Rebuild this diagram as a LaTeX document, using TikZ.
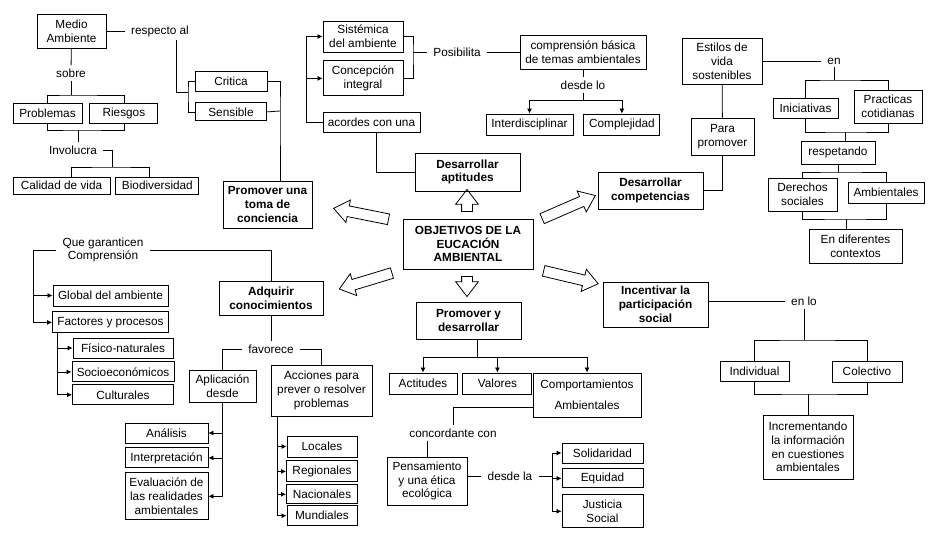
\documentclass[tikz,border=0pt]{standalone}
\usepackage{fontspec}
\setmainfont{Liberation Sans}
\usetikzlibrary{positioning, arrows.meta, shapes.arrows}
\newcommand\mapfont{\fontsize{11.8}{13.8}\selectfont}

\begin{document}
\begin{tikzpicture}[
    % one unit is one pixel of the sketch, y runs downwards
    x=1pt, y=-1pt,
    font=\mapfont,
    box/.style={
        draw=black,
        line width=0.9pt,
        align=center,
        inner sep=2pt
    },
    goal/.style={
        box,
        font=\mapfont\bfseries
    },
    word/.style={
        align=center,
        inner xsep=6pt,
        inner ysep=3pt
    },
    link/.style={
        line width=0.8pt
    },
    feed/.style={
        link,
        -{Latex[length=5pt, width=5pt]} % small filled head
    },
    push/.style={
        single arrow,
        draw=black,
        line width=0.8pt,
        inner sep=0pt,
        inner ysep=5pt,
        minimum height=#1,
        single arrow head extend=6pt,
        single arrow tip angle=75
    }
]

    \path[fill=white] (0,0) rectangle (937,535);

    % --- 1. Place Nodes ---
    \node[goal, minimum width=130, minimum height=50] (objetivos) at (468,244) {OBJETIVOS DE LA\\EUCACIÓN\\AMBIENTAL};

    % toma de conciencia
    \node[box, minimum width=69, minimum height=34] (medio) at (71.5,31) {Medio\\Ambiente};
    \node[word] (respecto) at (160,31) {respecto al};
    \node[word] (sobre) at (71,73) {sobre};
    \node[box, minimum width=69, minimum height=20] (problemas) at (47.5,113) {Problemas};
    \node[box, minimum width=68, minimum height=20] (riesgos) [right=7pt of problemas] {Riesgos};
    \node[word] (involucra) at (73,150) {Involucra};
    \node[box, minimum width=97, minimum height=17] (calidad) at (61.5,185.5) {Calidad de vida};
    \node[box, minimum width=83, minimum height=17] (biodiv) [right=5pt of calidad] {Biodiversidad};
    \node[box, minimum width=72, minimum height=20] (critica) at (231,81) {Critica};
    \node[box, minimum width=71, minimum height=18] (sensible) [below=11pt of critica] {Sensible};
    \node[goal, minimum width=89, minimum height=47] (toma) at (267.5,204.5) {Promover una\\toma de\\conciencia};

    % aptitudes
    \node[box, minimum width=80, minimum height=31] (sistemica) at (363,36.5) {Sistémica\\del ambiente};
    \node[box, minimum width=80, minimum height=35] (concepcion) [below=8pt of sistemica] {Concepción\\integral};
    \node[box, minimum width=97, minimum height=20] (acordes) at (371.5,122) {acordes con una};
    \node[goal, minimum width=105, minimum height=38] (aptitudes) at (467.5,172) {Desarrollar\\aptitudes};
    \node[word] (posibilita) at (457,52) {Posibilita};
    \node[box, minimum width=126, minimum height=34] (comprension) at (583,52) {comprensión básica\\de temas ambientales};
    \node[word] (desdelo) at (583,85) {desde lo};
    \node[box, minimum width=87, minimum height=21] (interdis) at (529.5,124.5) {Interdisciplinar};
    \node[box, minimum width=76, minimum height=21] (complejidad) [right=10pt of interdis] {Complejidad};

    % competencias
    \node[box, minimum width=80, minimum height=46] (estilos) at (722,61) {Estilos de\\vida\\sostenibles};
    \node[box, minimum width=63, minimum height=37] (para) at (722.5,136.5) {Para\\promover};
    \node[goal, minimum width=105, minimum height=37] (competencias) at (650.5,190.5) {Desarrollar\\competencias};
    \node[word] (en) at (834,61) {en};
    \node[box, minimum width=65, minimum height=20] (iniciativas) at (805.5,108) {Iniciativas};
    \node[box, minimum width=68, minimum height=33] (practicas) at (888,106.5) {Practicas\\cotidianas};
    \node[box, minimum width=74, minimum height=23] (respetando) at (838,152.5) {respetando};
    \node[box, minimum width=69, minimum height=33] (derechos) at (802.5,194.5) {Derechos\\sociales};
    \node[box, minimum width=76, minimum height=21] (ambientales) at (886,192.5) {Ambientales};
    \node[box, minimum width=93, minimum height=34] (contextos) at (855.5,246) {En diferentes\\contextos};

    % conocimientos
    \node[word] (quegar) at (103,250) {Que garanticen\\Comprensión};
    \node[box, minimum width=115, minimum height=21] (global) at (110.5,295.5) {Global del ambiente};
    \node[box, minimum width=116, minimum height=21] (factores) [below=5pt of global] {Factores y procesos};
    \node[box, minimum width=100, minimum height=20] (fisico) at (123,348) {Físico-naturales};
    \node[box, minimum width=102, minimum height=20] (socio) [below=3pt of fisico] {Socioeconómicos};
    \node[box, minimum width=101, minimum height=20] (culturales) [below=2pt of socio] {Culturales};
    \node[goal, minimum width=104, minimum height=34] (adquirir) at (271,298) {Adquirir\\conocimientos};
    \node[word] (favorece) at (271,349) {favorece};
    \node[box, minimum width=67, minimum height=32] (aplicacion) at (222.5,386) {Aplicación\\desde};
    \node[box, minimum width=101, minimum height=51] (acciones) at (321.5,390.5) {Acciones para\\prever o resolver\\problemas};
    \node[box, minimum width=83, minimum height=20] (analisis) at (166.5,433) {Análisis};
    \node[box, minimum width=83, minimum height=20] (interpretacion) [below=4pt of analisis] {Interpretación};
    \node[box, minimum width=83, minimum height=47] (evaluacion) [below=4pt of interpretacion] {Evaluación de\\las realidades\\ambientales};
    \node[box, minimum width=70, minimum height=21] (locales) at (322,446.5) {Locales};
    \node[box, minimum width=71, minimum height=21] (regionales) [below=3pt of locales] {Regionales};
    \node[box, minimum width=71, minimum height=19] (nacionales) [below=2pt of regionales] {Nacionales};
    \node[box, minimum width=70, minimum height=20] (mundiales) [below=1pt of nacionales] {Mundiales};

    % promover y desarrollar
    \node[goal, minimum width=105, minimum height=37] (promdes) at (468.5,320.5) {Promover y\\desarrollar};
    \node[box, minimum width=68, minimum height=21] (actitudes) at (423,383.5) {Actitudes};
    \node[box, minimum width=69, minimum height=21] (valores) [right=5pt of actitudes] {Valores};
    \node[box, minimum width=108, minimum height=44] (comportamientos) at (587,395) {Comportamientos\\[7pt]Ambientales};
    \node[word] (concordante) at (453,433) {concordante con};
    \node[box, minimum width=80, minimum height=48] (pensamiento) at (427,481) {Pensamiento\\y una ética\\ecológica};
    \node[word] (desdela) at (510,476) {desde la};
    \node[box, minimum width=81, minimum height=20] (solidaridad) at (602.5,453) {Solidaridad};
    \node[box, minimum width=81, minimum height=19] (equidad) [below=5pt of solidaridad] {Equidad};
    \node[box, minimum width=81, minimum height=33] (justicia) [below=6pt of equidad] {Justicia\\Social};

    % participacion
    \node[goal, minimum width=105, minimum height=45] (incentivar) at (655.5,304.5) {Incentivar la\\participación\\social};
    \node[word] (enlo) at (804,301) {en lo};
    \node[box, minimum width=69, minimum height=20] (individual) at (754.5,371) {Individual};
    \node[box, minimum width=70, minimum height=21] (colectivo) at (867,371.5) {Colectivo};
    \node[box, minimum width=90, minimum height=64] (incrementando) at (808,447) {Incrementando\\la información\\en cuestiones\\ambientales};

    % hollow arrows round the centre
    \node[push=22, rotate=90] (toaptitudes) at (467,204) {};
    \node[push=20, rotate=-90] (topromdes) at (467,283) {};
    \node[push=56, rotate=168.7] (totoma) at (364.5,214.5) {};
    \node[push=55, rotate=196.8] (toadquirir) at (369,280) {};
    \node[push=58, rotate=23.5] (tocompetencias) at (565.5,208.5) {};
    \node[push=56, rotate=-13.3] (toincentivar) at (567.5,276.5) {};

    % --- 2. Draw Connectors ---

    % Medio Ambiente -> sobre -> Problemas / Riesgos
    \draw[link] (medio) -- (sobre);
    \coordinate (sobrej) at (71,95);
    \draw[link] (sobre) -- (sobrej);
    \draw[link] (problemas.north) |- (sobrej) -| (riesgos.north);

    % Problemas / Riesgos -> Involucra -> Calidad / Biodiversidad
    \coordinate (invj) at (78,130);
    \draw[link] (problemas.south) |- (invj) -| (riesgos.south);
    \draw[link] (invj) -- (invj |- involucra.north);
    \coordinate (invj2) at (112,167);
    \draw[link] (involucra.east) -| (invj2);
    \draw[link] ([xshift=9.5pt]calidad.north) |- (invj2) -| ([xshift=-8.5pt]biodiv.north);

    % Medio Ambiente -> respecto al -> Critica / Sensible -> toma
    \draw[link] (medio) -- (respecto);
    \coordinate (respj) at (188,92);
    \draw[link] ([xshift=16pt]respecto.south) |- (respj);
    \draw[link] (critica.west) -| (respj) |- (sensible.west);
    \coordinate (tomaj) at (280,111);
    \draw[link] (critica.east) -| (tomaj) -- (tomaj |- toma.north);
    \draw[link] (sensible.east) -- (tomaj);

    % acordes con una -> Sistemica / Concepcion, and -> aptitudes
    \coordinate (acj) at (306,122);
    \draw[link] (acordes) -- (acj);
    \draw[feed] (acj) |- (sistemica.west);
    \draw[feed] (acj |- concepcion.west) -- (concepcion.west);
    \draw[link] ([xshift=4.5pt]acordes.south) |- (aptitudes.west);

    % Posibilita -> comprension -> desde lo
    \coordinate (posj) at (413,52);
    \draw[link] (sistemica.east) -| (posj) |- (concepcion.east);
    \draw[link] (posj) -- (posibilita);
    \draw[link] (posibilita) -- (comprension);
    \draw[link] (comprension) -- (desdelo);
    \coordinate (desdej) at (583,100);
    \draw[link] (desdelo) -- (desdej);
    \draw[feed] (desdej) -| (interdis.north);
    \draw[feed] (desdej) -| (complejidad.north);

    % Estilos de vida -> en -> ... -> contextos
    \draw[link] (estilos) -- (en);
    \coordinate (enj) at (834,80);
    \draw[link] (en) -- (enj);
    \draw[link] (iniciativas.north) |- (enj) -| (practicas.north);
    \coordinate (resj) at (845,132);
    \draw[link] (iniciativas.south) |- (resj) -| (practicas.south);
    \draw[link] (resj) -- (resj |- respetando.north);
    \coordinate (derj) at (838,172);
    \draw[link] (respetando) -- (derj);
    \draw[link] (derechos.north) |- (derj) -| (ambientales.north);
    \coordinate (ctxj) at (846,219);
    \draw[link] (derechos.south) |- (ctxj) -| (ambientales.south);
    \draw[link] (ctxj) -- (ctxj |- contextos.north);
    \draw[link] (estilos) -- (para);
    \draw[link] (para.south) |- (competencias.east);

    % Que garanticen -> Global / Factores, and -> Adquirir
    \coordinate (qgj) at (33,250);
    \draw[link] (quegar) -- (qgj);
    \draw[feed] (qgj) |- (global.west);
    \draw[feed] (qgj) |- (factores.west);
    \draw[link] (quegar.east) -| (adquirir.north);
    \draw[feed] ([xshift=-53pt]factores.south) |- (fisico.west);
    \draw[feed] ([xshift=-53pt]factores.south) |- (socio.west);
    \draw[feed] ([xshift=-53pt]factores.south) |- (culturales.west);

    % Adquirir -> favorece -> Aplicacion / Acciones
    \draw[link] (adquirir) -- (favorece);
    \draw[link] (favorece.west) -| (aplicacion.north);
    \draw[link] (favorece.east) -| (acciones.north);
    \draw[feed] (aplicacion.south) |- (analisis.east);
    \draw[feed] (aplicacion.south) |- (interpretacion.east);
    \draw[feed] (aplicacion.south) |- (evaluacion.east);
    \draw[feed] ([xshift=-44.5pt]acciones.south) |- (locales.west);
    \draw[feed] ([xshift=-44.5pt]acciones.south) |- (regionales.west);
    \draw[feed] ([xshift=-44.5pt]acciones.south) |- (nacionales.west);
    \draw[feed] ([xshift=-44.5pt]acciones.south) |- (mundiales.west);

    % Promover y desarrollar -> Actitudes / Valores / Comportamientos
    \coordinate (pdj) at (477,357);
    \draw[link] ([xshift=8.5pt]promdes.south) -- (pdj);
    \draw[feed] (pdj) -| (actitudes.north);
    \draw[feed] (pdj) -| (valores.north);
    \draw[feed] (pdj) -| (comportamientos.north);
    \draw[link] ([yshift=-12pt]comportamientos.west) -| (concordante.north);
    \draw[link] (pensamiento.north) -- (pensamiento.north |- concordante.south);
    \draw[link] ([yshift=5pt]pensamiento.east) -- (desdela);
    \coordinate (dlj) at (552,476);
    \draw[link] (desdela) -- (dlj);
    \draw[feed] (dlj) |- (solidaridad.west);
    \draw[feed] (dlj) |- (equidad.west);
    \draw[feed] (dlj) |- (justicia.west);

    % Incentivar -> en lo -> Individual / Colectivo -> Incrementando
    \draw[link] ([yshift=3.5pt]incentivar.east) -- (enlo);
    \coordinate (enloj) at (804,340);
    \draw[link] (enlo) -- (enloj);
    \draw[link] (individual.north) |- (enloj) -| (colectivo.north);
    \coordinate (incj) at (808,394);
    \draw[link] (individual.south) |- (incj) -| (colectivo.south);
    \draw[link] (incj) -- (incrementando);

\end{tikzpicture}
\end{document}
